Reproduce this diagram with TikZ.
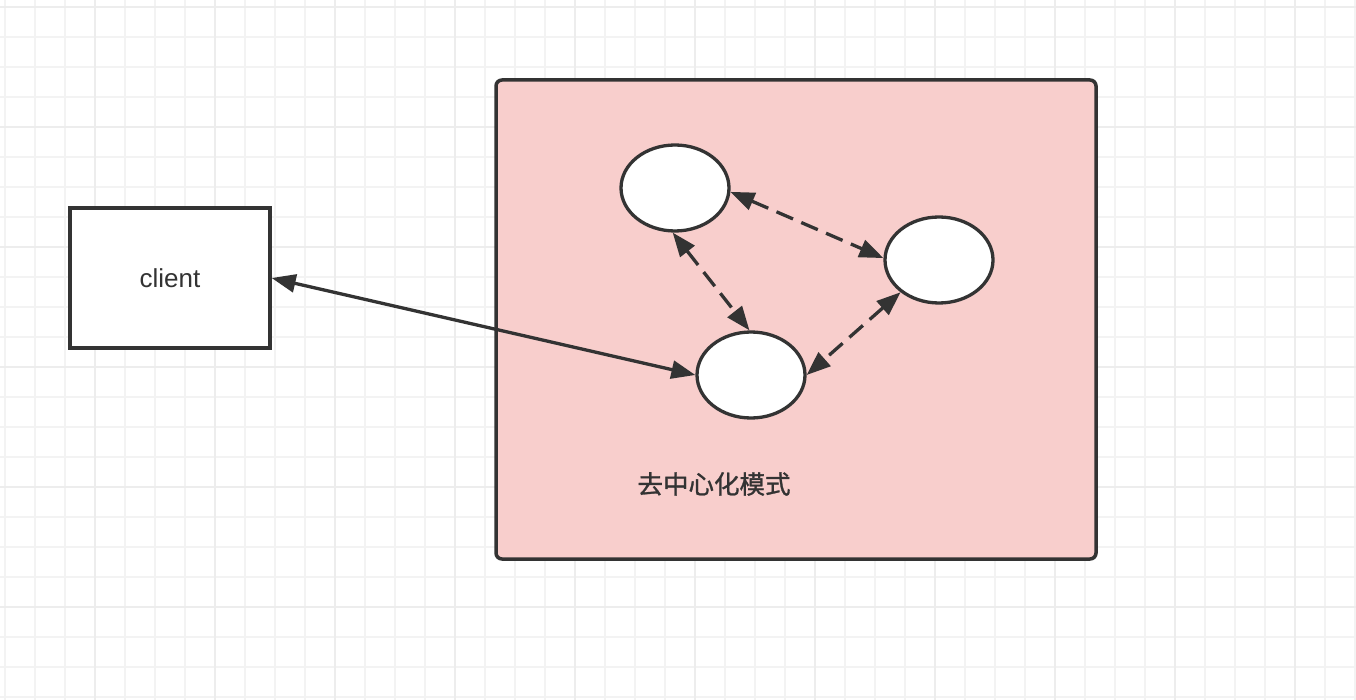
\documentclass[tikz,border=0pt]{standalone}
\usepackage{fontspec}
\setmainfont{Liberation Sans}
\newfontfamily\cjk[FakeBold=1.2]{Noto Sans CJK SC}
\usetikzlibrary{arrows.meta,shapes.geometric}
\definecolor{ink}{HTML}{333333}
\definecolor{pinkfill}{HTML}{F8CECC}
\definecolor{gridminor}{HTML}{F3F3F3}
\definecolor{gridmajor}{HTML}{EDEDED}
\begin{document}
\begin{tikzpicture}[x=1pt,y=-1pt,
  peer/.style={ellipse,draw=ink,fill=white,line width=3.3pt,minimum width=108pt,minimum height=86pt,inner sep=0pt},
  box/.style={rectangle,draw=ink,line width=3.3pt,inner sep=0pt},
  link/.style={draw=ink,line width=3.3pt,{Triangle[length=24pt,width=18pt]}-{Triangle[length=24pt,width=18pt]}},
  dlink/.style={link,dash pattern=on 18pt off 9pt},
  minorline/.style={draw=gridminor,line width=2pt},
  majorline/.style={draw=gridmajor,line width=2.5pt}
]
\fill[white] (0,0) rectangle (1356,700);
\useasboundingbox (0,0) rectangle (1356,700);
\foreach \x in {5,35,...,1355} \draw[minorline] (\x,0) -- (\x,700);
\foreach \y in {7,37,...,697} \draw[minorline] (0,\y) -- (1356,\y);
\foreach \x in {95,215,...,1295} \draw[majorline] (\x,0) -- (\x,700);
\foreach \y in {7,127,...,607} \draw[majorline] (0,\y) -- (1356,\y);

\node[box,fill=pinkfill,rounded corners=6pt,line width=3.5pt,minimum width=600pt,minimum height=479pt] (zone) at (796,319.5) {};
\node[box,fill=white,minimum width=200pt,minimum height=140pt,text=ink,font=\fontsize{26}{30}\selectfont] (client) at (170,278) {client};

\node[peer] (e1) at (675,188) {};
\node[peer] (e2) at (939,260) {};
\node[peer] (e3) at (751,375) {};

\node[text=ink,font=\cjk\fontsize{25.5}{30}\selectfont,inner sep=0pt] (label) at (714,484) {去中心化模式};

\draw[link] (client.east) -- (e3.west);
\draw[dlink] (e1.-4) -- (e2.178);
\draw[dlink] (e1.-93) -- (e3.92);
\draw[dlink] (e2.220) -- (e3.east);
\end{tikzpicture}
\end{document}
